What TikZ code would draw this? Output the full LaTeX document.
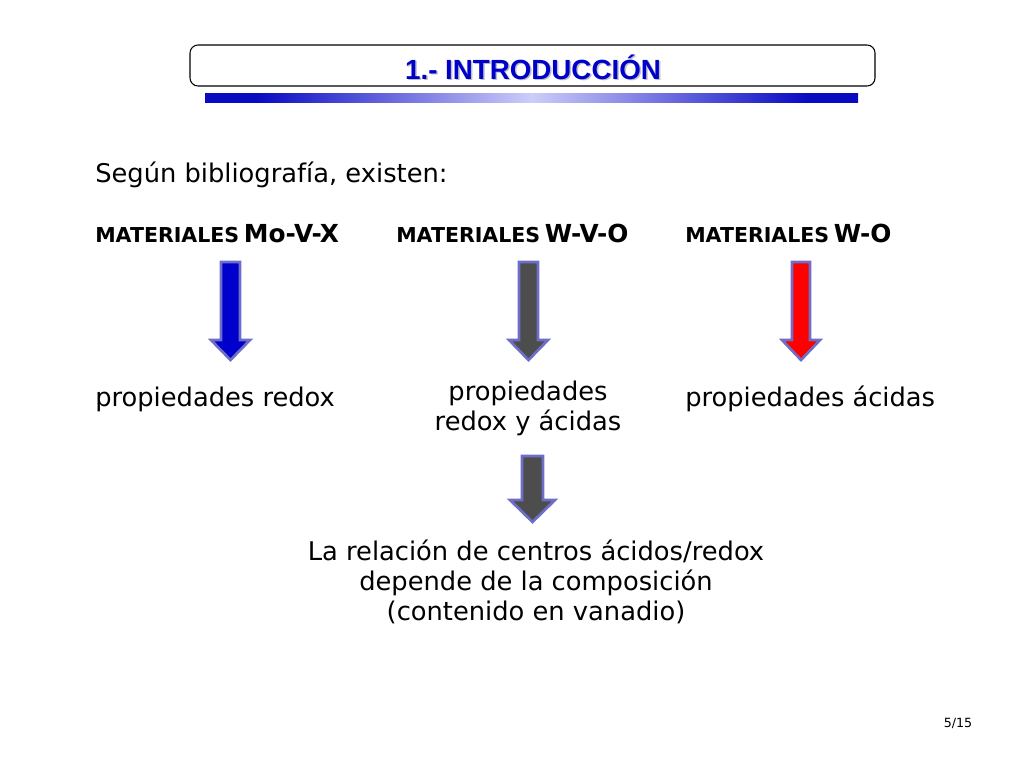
\documentclass[tikz,border=0pt]{standalone}
\usepackage{fontspec}
\setmainfont{DejaVu Sans}
\newfontfamily\titlefont{Liberation Sans}
\usetikzlibrary{positioning}

\definecolor{tituloazul}{RGB}{0,0,204}
\definecolor{bordeflecha}{RGB}{110,110,200}
\definecolor{grisflecha}{RGB}{77,77,77}
\definecolor{barraazul}{RGB}{10,10,195}
\definecolor{barraclara}{RGB}{205,205,250}

\pgfdeclarehorizontalshading{barra}{100bp}{color(0bp)=(barraazul); color(29bp)=(barraazul); color(50bp)=(barraclara); color(71bp)=(barraazul); color(100bp)=(barraazul)}

\tikzset{
  txt/.style={inner sep=0pt, font=\fontsize{19.3}{22.5}\selectfont},
  matl/.style={inner sep=0pt, font=\bfseries},
  flecha/.style={line width=2pt, color=bordeflecha, line join=miter}
}

\newcommand{\mat}[1]{{\fontsize{15.4}{17}\selectfont MATERIALES} {\fontsize{18.6}{20}\selectfont #1}}

\begin{document}
\begin{tikzpicture}[x=0.75pt,y=-0.75pt]
  \useasboundingbox (0,0) rectangle (1024,768);

  % titulo
  \draw [thick, rounded corners=6pt] (190,45) rectangle (875,86);
  \node [font=\titlefont\bfseries\fontsize{20.8}{24}\selectfont, text=black!25] at (534.5,68.5) {1.- INTRODUCCIÓN};
  \node (titulo) [font=\titlefont\bfseries\fontsize{20.8}{24}\selectfont, text=tituloazul] at (533,67) {1.- INTRODUCCIÓN};
  \shade [shading=barra] (205,93) rectangle (858,102);

  \node (segun) [txt, anchor=base west] at (95,182) {Según bibliografía, existen:};

  \node (matA) [matl, anchor=base west] at (95,242) {\mat{Mo-V-X}};
  \node (matB) [matl, anchor=base west] at (396,242) {\mat{W-V-O}};
  \node (matC) [matl, anchor=base west] at (685,242) {\mat{W-O}};

  % flechas
  \draw [flecha, fill=tituloazul] (221,262) -- (240,262) -- (240,340) -- (250,340) -- (230.5,360) -- (211,340) -- (221,340) -- cycle;
  \draw [flecha, fill=grisflecha] (519,262) -- (538,262) -- (538,340) -- (548,340) -- (528.5,360) -- (509,340) -- (519,340) -- cycle;
  \draw [flecha, fill=red] (792,262) -- (810,262) -- (810,340) -- (820,340) -- (801,360) -- (782,340) -- (792,340) -- cycle;

  \node (propA) [txt, anchor=base west] at (95,406) {propiedades redox};
  \node (propB) [txt, align=center, anchor=base] at (528,430) {propiedades\\redox y ácidas};
  \node (propC) [txt, anchor=base west] at (685,406) {propiedades ácidas};

  \draw [flecha, fill=grisflecha] (522,456) -- (543,456) -- (543,500) -- (555,500) -- (532.5,522) -- (510,500) -- (522,500) -- cycle;

  \node (relacion) [txt, align=center, anchor=base] at (536,620) {La relación de centros ácidos/redox\\depende de la composición\\(contenido en vanadio)};

  \node (pagina) [inner sep=0pt, font=\fontsize{9.5}{11}\selectfont, anchor=base] at (958,727) {5/15};
\end{tikzpicture}
\end{document}
